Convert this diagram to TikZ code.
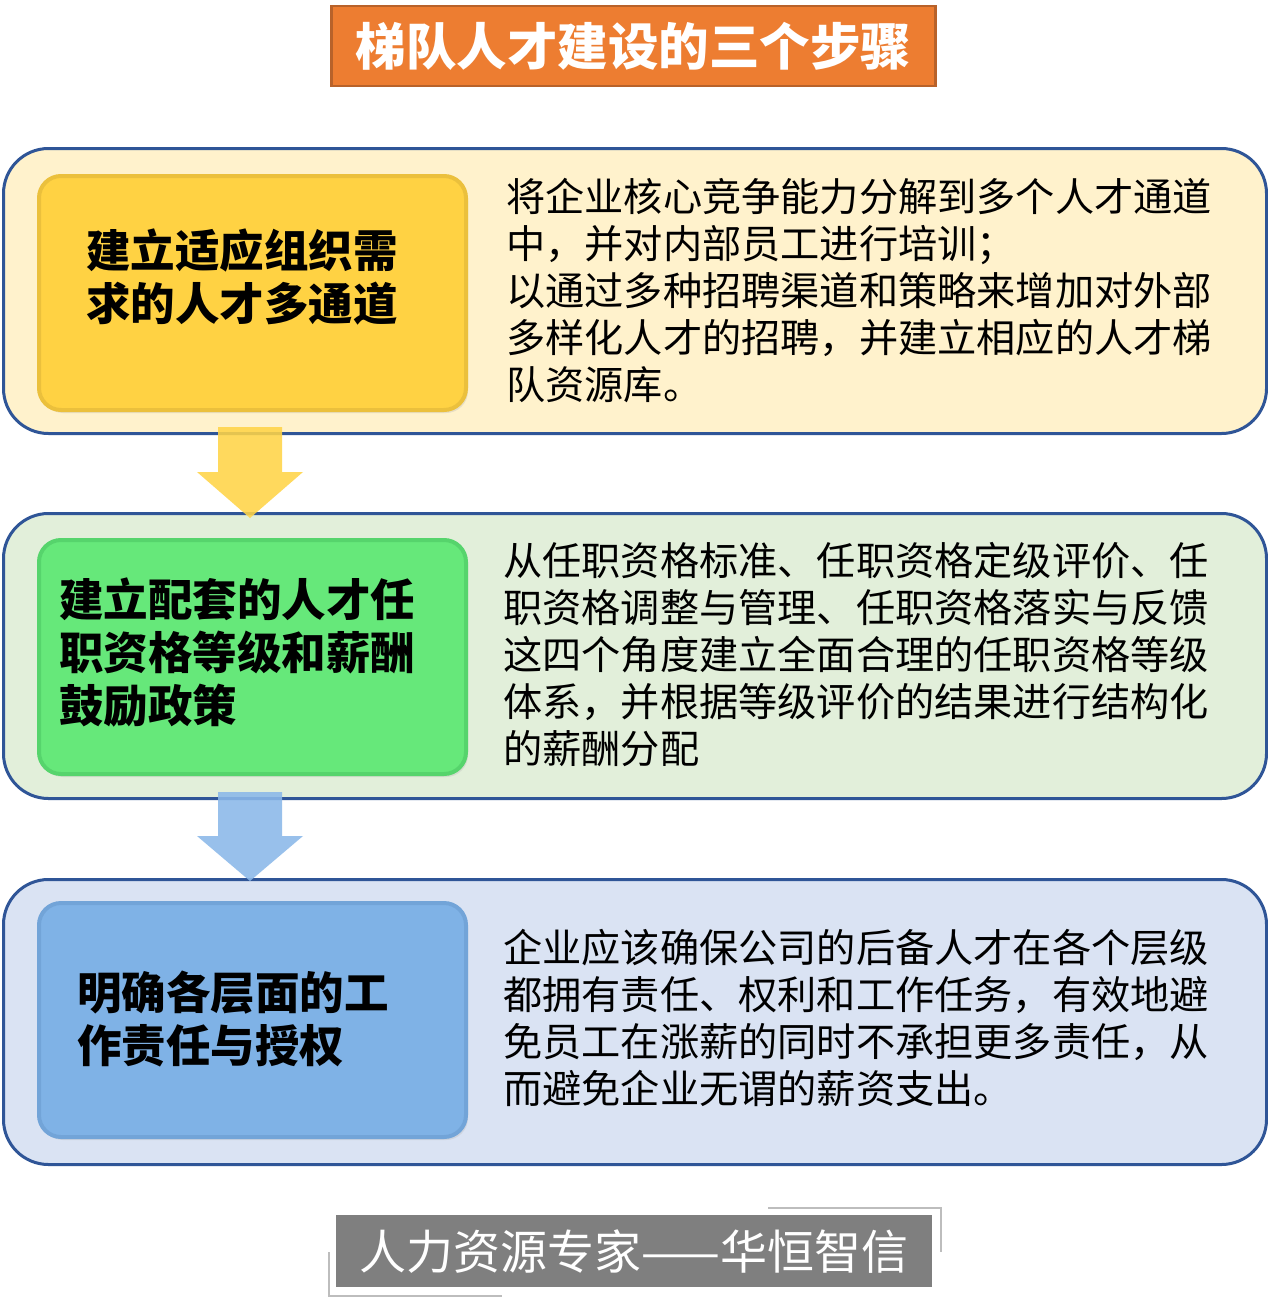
\documentclass[tikz,border=0pt]{standalone}
\usepackage{fontspec}
\setmainfont{Noto Sans CJK SC}
\definecolor{titleor}{HTML}{ED7D31}
\definecolor{titleedge}{HTML}{B8622A}
\definecolor{outerblue}{HTML}{2F5597}
\definecolor{fillA}{HTML}{FFF2CC}
\definecolor{fillB}{HTML}{E2EFDA}
\definecolor{fillC}{HTML}{DAE3F3}
\definecolor{yellowin}{HTML}{FFD243}
\definecolor{yellowedge}{HTML}{EBC03C}
\definecolor{greenin}{HTML}{66E87A}
\definecolor{greenedge}{HTML}{56D46C}
\definecolor{bluein}{HTML}{7FB2E6}
\definecolor{blueedge}{HTML}{72A4D8}
\definecolor{arrowY}{HTML}{FFD447}
\definecolor{arrowB}{HTML}{8AB8E9}
\definecolor{wmgray}{HTML}{7F7F7F}
\definecolor{bracketgray}{HTML}{BDBDBD}
\tikzset{
  outerbox/.style={draw=outerblue, line width=3pt, rounded corners=45pt, anchor=north west, minimum width=1263pt, minimum height=285pt, inner sep=0pt},
  innerbox/.style={line width=4pt, rounded corners=22pt, anchor=north west, minimum width=427pt, minimum height=234pt, inner sep=0pt},
  headtext/.style={anchor=west, align=left, inner sep=0pt, font=\fontsize{44.5}{53}\selectfont\bfseries, text=black},
  bodytext/.style={anchor=west, align=left, inner sep=0pt, font=\fontsize{39.2}{47}\selectfont, text=black},
  bracket/.style={draw=bracketgray, line width=2pt},
}
\begin{document}
\begin{tikzpicture}[x=1pt,y=-1pt]
\useasboundingbox (0,0) rectangle (1267,1301);
\fill[white] (0,0) rectangle (1267,1301);

% title
\node[fill=titleor, draw=titleedge, line width=2.5pt, minimum width=604pt, minimum height=80pt, inner sep=0pt, text=white, font=\fontsize{50.5}{56}\selectfont\bfseries] (title) at (633.5,46) {梯队人才建设的三个步骤};

% outer boxes
\node[outerbox, fill=fillA] (b1) at (2,147) {};
\node[outerbox, fill=fillB] (b2) at (2,512) {};
\node[outerbox, fill=fillC] (b3) at (2,878) {};

% inner boxes (soft shadow + bevelled face)
\node[innerbox, fill=black!30, opacity=.3, draw=none] at (39,177) {};
\node[innerbox, fill=yellowin, draw=yellowedge] (i1) at (37,174) {};
\node[innerbox, fill=black!30, opacity=.3, draw=none] at (39,541) {};
\node[innerbox, fill=greenin, draw=greenedge] (i2) at (37,538) {};
\node[innerbox, fill=black!30, opacity=.3, draw=none] at (39,904) {};
\node[innerbox, fill=bluein, draw=blueedge] (i3) at (37,901) {};

% arrows
\fill[arrowY, opacity=.88] (218,427) -- (282,427) -- (282,472) -- (303,472) -- (250,518) -- (197,472) -- (218,472) -- cycle;
\fill[arrowB, opacity=.88] (218,792) -- (282,792) -- (282,836) -- (303,836) -- (250,881) -- (197,836) -- (218,836) -- cycle;

% inner texts
\node[headtext] (h1) at (86,277) {建立适应组织需\\求的人才多通道};
\node[headtext] (h2) at (59,653) {建立配套的人才任\\职资格等级和薪酬\\鼓励政策};
\node[headtext] (h3) at (77,1019) {明确各层面的工\\作责任与授权};

% right texts
\node[bodytext] (t1) at (506,291) {将企业核心竞争能力分解到多个人才通道\\中，并对内部员工进行培训；\\以通过多种招聘渠道和策略来增加对外部\\多样化人才的招聘，并建立相应的人才梯\\队资源库。};
\node[bodytext] (t2) at (503,655) {从任职资格标准、任职资格定级评价、任\\职资格调整与管理、任职资格落实与反馈\\这四个角度建立全面合理的任职资格等级\\体系，并根据等级评价的结果进行结构化\\的薪酬分配};
\node[bodytext] (t3) at (503,1018) {企业应该确保公司的后备人才在各个层级\\都拥有责任、权利和工作任务，有效地避\\免员工在涨薪的同时不承担更多责任，从\\而避免企业无谓的薪资支出。};

% watermark
\node[fill=wmgray, minimum width=596pt, minimum height=72pt, inner sep=0pt, anchor=north west] (wm) at (336,1215) {};
\node[text=white, inner sep=0pt, font=\fontsize{47}{50}\selectfont] (wmt) at (wm.center) {人力资源专家——华恒智信};
\draw[bracket] (768,1208) -- (941,1208) -- (941,1252);
\draw[bracket] (329,1252) -- (329,1296) -- (502,1296);
\end{tikzpicture}
\end{document}
